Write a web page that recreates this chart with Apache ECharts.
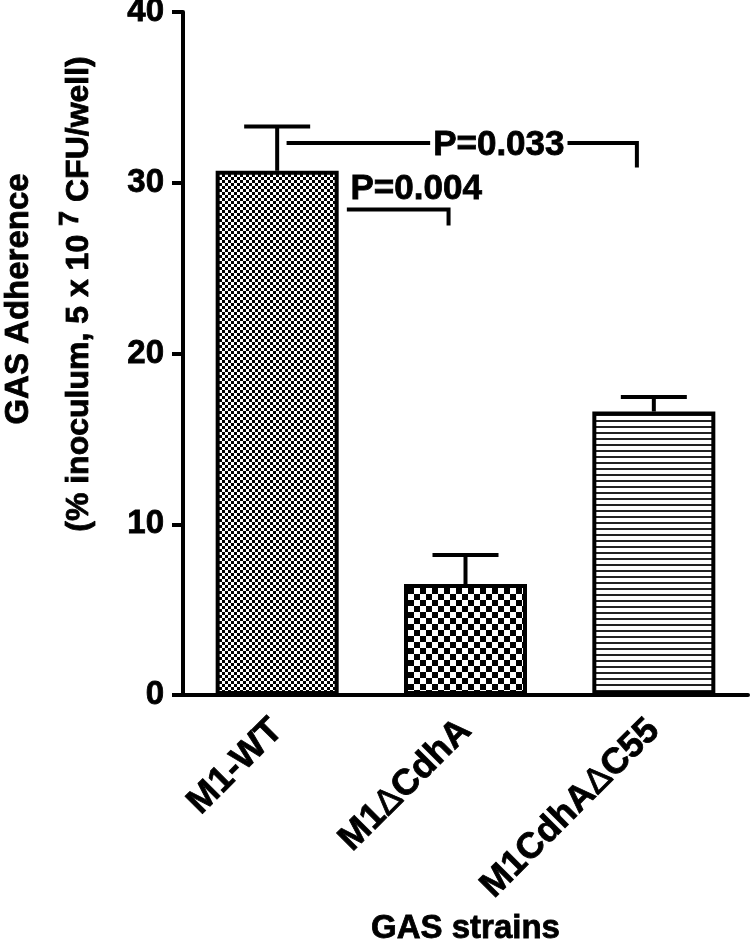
<!DOCTYPE html>
<html lang="en">
<head>
<meta charset="utf-8">
<title>GAS Adherence</title>
<script src="https://cdn.jsdelivr.net/npm/echarts@6/dist/echarts.min.js"></script>
<style>
    html, body { margin: 0; padding: 0; background: #fff; }
    #main { width: 750px; height: 939px; }
</style>
</head>
<body>
<div id="main"></div>
<script type="text/javascript">
    // data
    var strains = ['M1-WT', 'M1ΔCdhA', 'M1CdhAΔC55'];
    var adherence = [30.7, 6.5, 16.6];
    var sem = [2.6, 1.7, 0.85];
    var yTicks = [0, 10, 20, 30, 40];
    // significance brackets: [from (category offset), to (category offset), level, drop end]
    var brackets = [[0.05, 1.91, 32.33, 30.9], [0.37, 0.91, 28.43, 27.5]];
    var pLabels = ['P=0.033', 'P=0.004'];
    var pLabelPos = [[1.177, 32.2], [0.738, 29.6]];

    var FONT = '"Liberation Sans", Arial, sans-serif';
    var HEAVY = { textBorderColor: '#000', textBorderWidth: 0.8 };

    // fill patterns like the Prism bars
    function makePattern(kind) {
        var c = document.createElement('canvas');
        var ctx;
        if (kind === 'fine' || kind === 'coarse') {
            var s = kind === 'fine' ? 3 : 6;
            c.width = c.height = s * 2;
            ctx = c.getContext('2d');
            ctx.fillStyle = '#fff';
            ctx.fillRect(0, 0, s * 2, s * 2);
            ctx.fillStyle = '#000';
            ctx.fillRect(0, 0, s, s);
            ctx.fillRect(s, s, s, s);
        } else {
            c.width = 6; c.height = 6;
            ctx = c.getContext('2d');
            ctx.fillStyle = '#fff';
            ctx.fillRect(0, 0, 6, 6);
            ctx.fillStyle = '#222';
            ctx.fillRect(0, 0, 6, 2);
        }
        return { image: c, repeat: 'repeat' };
    }
    var patterns = [makePattern('fine'), makePattern('coarse'), makePattern('lines')];

    var barData = adherence.map(function (v, i) {
        return { value: v, itemStyle: { color: patterns[i] } };
    });
    var errData = adherence.map(function (v, i) { return [i, v, sem[i]]; });
    var bracketData = brackets.map(function (b) { return [0, b[0], b[1], b[2], b[3]]; });
    var labelData = pLabels.map(function (t, i) { return [0, pLabelPos[i][0], pLabelPos[i][1], i]; });

    var myChart = echarts.init(document.getElementById('main'));
    myChart.setOption({
        animation: false,
        grid: { left: 183, right: 2, top: 12, bottom: 244, outerBoundsMode: 'none' },
        xAxis: {
            type: 'category',
            data: strains,
            name: 'GAS strains',
            nameLocation: 'middle',
            nameGap: 212,
            nameTextStyle: Object.assign({ fontFamily: FONT, fontWeight: 'bold', fontSize: 33, color: '#000' }, HEAVY),
            axisLine: { lineStyle: { color: '#000', width: 4 } },
            axisTick: { alignWithLabel: true, length: 12, lineStyle: { color: '#000', width: 4 } },
            axisLabel: Object.assign({
                rotate: 45,
                margin: 30,
                fontFamily: FONT,
                fontWeight: 'bold',
                fontSize: 36,
                color: '#000',
                formatter: function (v) { return v.replace(/Δ/g, '{d|Δ}'); },
                rich: { d: { fontFamily: FONT, fontWeight: 'normal', fontSize: 36, color: '#000' } }
            }, HEAVY)
        },
        yAxis: {
            type: 'value',
            min: yTicks[0],
            max: yTicks[yTicks.length - 1],
            interval: 10,
            splitLine: { show: false },
            axisLine: { show: true, lineStyle: { color: '#000', width: 4 } },
            axisTick: { show: true, length: 11, lineStyle: { color: '#000', width: 4 } },
            axisLabel: Object.assign({ margin: 19, fontFamily: FONT, fontWeight: 'bold', fontSize: 33, color: '#000' }, HEAVY)
        },
        graphic: [
            {
                type: 'text', x: 19, y: 299, rotation: Math.PI / 2,
                style: {
                    text: 'GAS Adherence', fontFamily: FONT, fontWeight: 'bold', fontSize: 33,
                    fill: '#000', stroke: '#000', lineWidth: 0.8, align: 'center', verticalAlign: 'middle'
                }
            },
            {
                type: 'text', x: 79, y: 294, rotation: Math.PI / 2,
                style: {
                    text: '(% inoculum, 5 x 10 {sup|7} CFU/well)', fontFamily: FONT, fontWeight: 'bold', fontSize: 32,
                    fill: '#000', stroke: '#000', lineWidth: 0.8, align: 'center', verticalAlign: 'middle',
                    rich: { sup: { fontFamily: FONT, fontWeight: 'bold', fontSize: 27, verticalAlign: 'top', padding: [0, 0, 16, 0] } }
                }
            }
        ],
        series: [
            {
                type: 'bar',
                data: barData,
                barWidth: 123,
                itemStyle: { borderColor: '#000', borderWidth: 4 },
                z: 2
            },
            {
                // upward error bars (mean + SEM)
                type: 'custom',
                data: errData,
                z: 3,
                renderItem: function (params, api) {
                    var base = api.coord([api.value(0), api.value(1)]);
                    var top = api.coord([api.value(0), api.value(1) + api.value(2)]);
                    var st = { stroke: '#000', lineWidth: 4 };
                    return {
                        type: 'group',
                        children: [
                            { type: 'line', shape: { x1: base[0], y1: base[1], x2: top[0], y2: top[1] }, style: st },
                            { type: 'line', shape: { x1: top[0] - 33, y1: top[1], x2: top[0] + 33, y2: top[1] }, style: st }
                        ]
                    };
                }
            },
            {
                // significance brackets
                type: 'custom',
                data: bracketData,
                z: 3,
                renderItem: function (params, api) {
                    var band = api.size([1, 0])[0];
                    var origin = api.coord([0, api.value(3)]);
                    var x1 = origin[0] + api.value(1) * band;
                    var x2 = origin[0] + api.value(2) * band;
                    var yDrop = api.coord([0, api.value(4)])[1];
                    return {
                        type: 'polyline',
                        shape: { points: [[x1, origin[1]], [x2, origin[1]], [x2, yDrop]] },
                        style: { stroke: '#000', lineWidth: 4, fill: null }
                    };
                }
            },
            {
                type: 'custom',
                data: labelData,
                z: 4,
                renderItem: function (params, api) {
                    var band = api.size([1, 0])[0];
                    var p = api.coord([0, api.value(2)]);
                    return {
                        type: 'text',
                        x: p[0] + api.value(1) * band,
                        y: p[1],
                        style: {
                            text: pLabels[api.value(3)],
                            fontFamily: FONT, fontWeight: 'bold', fontSize: 35, fill: '#000',
                            stroke: '#000', lineWidth: 0.8,
                            align: 'center', verticalAlign: 'middle',
                            backgroundColor: '#fff', padding: [0, 3, 0, 3]
                        }
                    };
                }
            }
        ]
    });
</script>
</body>
</html>
